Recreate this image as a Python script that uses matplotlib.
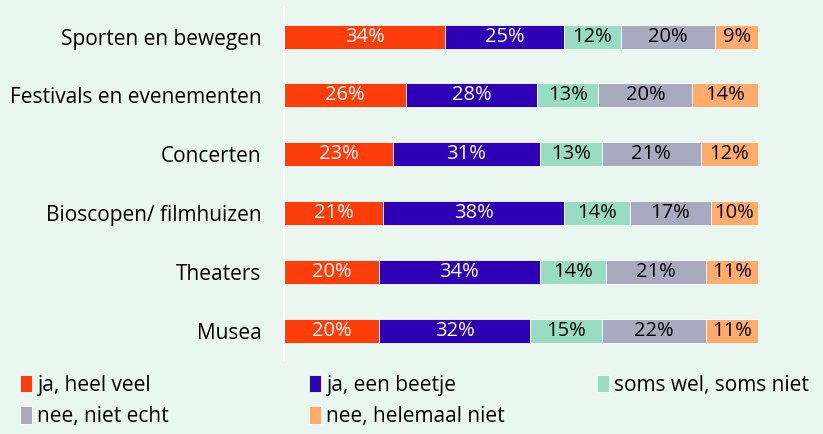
import matplotlib
matplotlib.use("Agg")
import matplotlib.pyplot as plt
import numpy as np

plt.rcParams['font.family'] = ['Open Sans', 'DejaVu Sans']

categories = ["Sporten en bewegen", "Festivals en evenementen", "Concerten",
              "Bioscopen/ filmhuizen", "Theaters", "Musea"]
series = ["ja, heel veel", "ja, een beetje", "soms wel, soms niet",
          "nee, niet echt", "nee, helemaal niet"]
heel_veel = [34, 26, 23, 21, 20, 20]
een_beetje = [25, 28, 31, 38, 34, 32]
soms = [12, 13, 13, 14, 14, 15]
niet_echt = [20, 20, 21, 17, 21, 22]
helemaal_niet = [9, 14, 12, 10, 11, 11]

colors = ["#FF3D0A", "#2E00B5", "#99DCC4", "#A9A9C0", "#FFAB6B"]
text_colors = ["white", "white", "black", "black", "black"]
bg = "#EAF7F1"

data = np.array([heel_veel, een_beetje, soms, niet_echt, helemaal_niet], dtype=float)
# balken op 100% schalen (afronding)
widths = data / data.sum(axis=0) * 100

fig = plt.figure(figsize=(8.23, 4.34), dpi=100, facecolor=bg)
ax = fig.add_axes([0.345, 0.1705, 0.576, 0.813], facecolor=bg)

y = np.arange(len(categories))
left = np.zeros(len(categories))
handles = []
for i in range(len(series)):
    b = ax.barh(y, widths[i], left=left, height=0.41, color=colors[i],
                edgecolor="white", linewidth=0.6, label=series[i])
    handles.append(b)
    for j in range(len(categories)):
        ax.text(left[j] + widths[i][j] / 2, y[j], "%d%%" % data[i][j],
                ha="center", va="center", fontsize=14.5, color=text_colors[i])
    left += widths[i]

ax.set_xlim(0, 100)
ax.set_ylim(len(categories) - 0.5, -0.5)
ax.set_yticks(y)
ax.set_yticklabels(categories, fontsize=15)
ax.set_xticks([])
ax.tick_params(axis="y", length=0, pad=16)
for s in ["top", "right", "bottom"]:
    ax.spines[s].set_visible(False)
ax.spines["left"].set_color("white")
ax.spines["left"].set_linewidth(1.5)

# legenda in drie kolommen, elk apart geplaatst
kolommen = [[0, 3], [1, 4], [2]]
kol_x = [0.007, 0.358, 0.708]
for kol, x0 in zip(kolommen, kol_x):
    fig.legend([handles[k] for k in kol], [series[k] for k in kol],
               loc="upper left", bbox_to_anchor=(x0, 0.17), frameon=False,
               fontsize=15, handlelength=0.55, handleheight=0.9,
               handletextpad=0.25, labelspacing=0.5, borderpad=0.2)

fig.savefig("out.png", dpi=100, facecolor=bg)
